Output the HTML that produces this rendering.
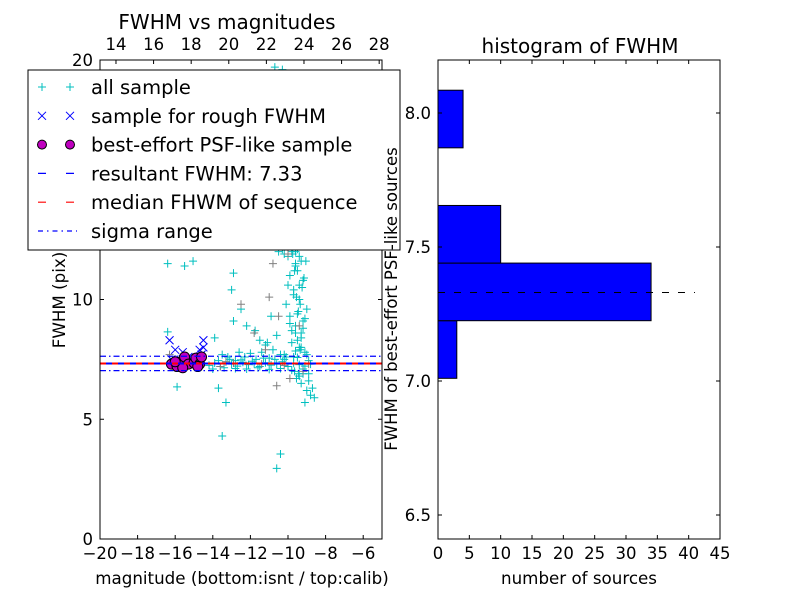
<!DOCTYPE html>
<html><head><meta charset="utf-8"><style>
body{margin:0;background:#fff}
svg{font-family:"DejaVu Sans","Liberation Sans",sans-serif}
</style></head><body>
<svg id="c" width="800" height="600" viewBox="0 0 800 600"></svg>
<script>
// ---- data ----
const allMag=[-14.2,-13.9,-13.6,-13.3,-13.0,-12.7,-12.4,-12.1,-11.8,-11.5,-11.2,-10.9,-10.6,-10.3,-10.0,-9.7,-9.4,-9.1,-8.8,
-14.0,-13.7,-13.4,-13.1,-12.8,-12.5,-12.2,-11.9,-11.6,-11.3,-11.0,-10.7,-10.4,-10.1,-9.8,-9.5,-9.2,-8.9,
-12.0,-11.4,-10.8,-10.2,-9.6,-9.3,-13.5,-12.6,-11.1,
-9.8,-9.6,-9.9,-9.5,-10.1,-9.7,-9.4,-9.9,-9.6,-10.0,-9.8,-9.5,-10.2,-9.7,-9.9,-10.0,-9.6,-10.3,-9.8,-10.1,-9.9,-10.4,-10.0,-10.2,-10.5,-10.3,
-9.3,-9.2,-9.1,-9.0,-9.4,-9.7,-9.2,-9.5,-9.3,-9.6,-9.1,-9.8,-10.6,-10.9,-11.2,-10.5,-10.7,
-16.4,-15.5,-15.05,-12.9,-13.0,-12.5,-12.9,-11.75,-15.9,-13.7,-13.3,-13.5,-10.4,-10.6,-16.4,-13.9,-12.2,-11.5,
-9.3,-9.0,-8.8,-8.6,-9.1,-9.4,-8.9,-9.2,-8.7,-10.7,
-9.4,-9.5,-9.3,-9.6,-9.2,-9.45,-9.35,-9.55,-9.25,-9.15,-9.65,-9.05,-9.5,-9.3,-9.4,-9.2,-9.6,-9.7,-9.1,-9.35,
-9.8,-9.9,-10.0,-9.75,-9.85,-10.1,-9.6,-9.45,-9.55,-9.65,-12.3,-11.7,-11.0,-10.4,-13.2,-12.8,-10.2,-9.0,-8.9,-9.95,
-10.0,-9.7,-9.4,-10.3,-9.9,-9.6,-10.2,-9.5,-9.8,-10.1];
const allFwhm=[7.25,7.35,7.2,7.4,7.3,7.22,7.38,7.28,7.32,7.2,7.36,7.26,7.3,7.4,7.2,7.34,7.28,7.22,7.3,
7.1,7.45,7.15,7.5,7.12,7.48,7.1,7.42,7.15,7.55,7.08,7.5,7.12,7.6,7.05,7.58,7.1,7.45,
7.75,7.8,7.9,7.7,7.85,8.0,7.7,7.8,8.2,
8.2,8.6,9.0,9.4,9.8,10.2,10.6,11.0,11.4,11.8,12.2,12.6,13.0,13.5,14.0,14.5,15.0,15.5,16.0,16.5,17.0,17.5,18.0,18.5,19.0,19.6,
8.4,8.8,9.2,9.6,10.0,10.4,10.8,11.2,11.6,12.0,12.4,12.8,8.5,9.3,8.1,12.0,13.2,
11.5,11.4,11.6,11.1,10.4,9.6,9.1,8.7,6.35,6.3,5.7,4.3,3.55,2.95,8.65,8.4,8.9,8.3,
6.5,6.2,6.0,5.9,5.7,6.8,6.6,6.9,6.3,19.7,
8.0,8.3,8.6,8.9,9.1,9.5,9.8,10.1,10.5,10.9,11.2,11.6,12.1,12.5,13.0,13.8,14.6,7.6,7.8,7.9,
8.7,9.3,10.6,11.9,13.4,14.9,15.8,6.9,6.7,7.0,7.6,7.5,7.55,7.7,7.6,7.45,7.5,7.7,6.9,16.8,
12.9,12.3,11.8,12.1,12.7,11.5,11.9,12.4,12.0,12.6];
const grayMag=[-16.3,-13.3,-12.5,-11.8,-11.0,-10.5,-10.0,-9.7,-9.4,-10.8,-11.4,-9.2,-10.2,-12.9,-13.6,-9.9,-10.6,-11.2,-8.9,-9.5];
const grayFwhm=[7.7,7.4,9.8,8.6,10.1,9.3,11.9,12.8,8.9,11.5,7.3,7.0,7.25,7.35,7.2,6.7,6.4,7.9,7.3,14.2];
const roughMag=[-16.3,-16.0,-15.6,-15.3,-14.5,-14.5,-14.6,-16.2,-15.0,-14.7];
const roughFwhm=[8.3,7.9,7.8,7.6,8.3,8.0,7.7,7.5,7.4,7.9];
const bestMag=[-16.2,-15.9,-15.7,-15.5,-15.3,-15.0,-14.9,-14.7,-14.6,-15.6,-16.0,-14.8];
const bestFwhm=[7.3,7.2,7.4,7.6,7.3,7.35,7.55,7.3,7.6,7.15,7.4,7.2];
const resultFwhm=7.33, medianFwhm=7.33, sigmaLo=7.03, sigmaHi=7.63;
const binEdges=[7.01,7.225,7.44,7.655,7.87,8.085];
const binCounts=[3,34,10,0,4];
const xTicksL=[-20,-18,-16,-14,-12,-10,-8,-6];
const xTicksTop=[14,16,18,20,22,24,26,28];
const yTicksL=[0,5,10,15,20];
const xTicksR=[0,5,10,15,20,25,30,35,40,45];
const yTicksR=[6.5,7.0,7.5,8.0];

const svg=document.getElementById('c');const NS='http://www.w3.org/2000/svg';
function mk(t,a,p){const e=document.createElementNS(NS,t);for(const k in a)e.setAttribute(k,a[k]);(p||svg).appendChild(e);return e;}
const L={x0:100,x1:382,y0:60,y1:539};
const xL=v=>L.x0+(v+20)*18.8, yL=v=>L.y1-v*23.95, xTop=v=>L.x0+(v-13.15)*18.8;
const R={x0:438,x1:720,y0:60,y1:539};
const xR=v=>R.x0+v*6.267, yR=v=>113+(8.0-v)*268;
function txt(x,y,s,sz,anchor,name,extra){const t=mk('text',Object.assign({x:x,y:y,'font-size':sz,'text-anchor':anchor||'middle',fill:'#000'},extra||{}));t.textContent=s;return t;}
function plus(g,x,y,c){mk('path',{d:`M${x-4} ${y}h8M${x} ${y-4}v8`,stroke:c,'stroke-width':1,fill:'none'},g);}
function cross(g,x,y,c){mk('path',{d:`M${x-4} ${y-4}l8 8M${x-4} ${y+4}l8 -8`,stroke:c,'stroke-width':1,fill:'none'},g);}

const clipL=mk('clipPath',{id:'cl'});mk('rect',{x:L.x0,y:L.y0,width:L.x1-L.x0,height:L.y1-L.y0},clipL);
const gL=mk('g',{'clip-path':'url(#cl)'});


const gAll=mk('g',{},gL);
allMag.forEach((m,i)=>plus(gAll,xL(m),yL(allFwhm[i]),'#00bfbf'));
const gGray=mk('g',{},gL);
grayMag.forEach((m,i)=>plus(gGray,xL(m),yL(grayFwhm[i]),'#808080'));
const gR=mk('g',{},gL);
roughMag.forEach((m,i)=>cross(gR,xL(m),yL(roughFwhm[i]),'#0000ff'));
const gB=mk('g',{},gL);
bestMag.forEach((m,i)=>mk('circle',{cx:xL(m),cy:yL(bestFwhm[i]),r:5,fill:'#bf00bf',stroke:'#000','stroke-width':1},gB));
let ln=mk('line',{x1:L.x0,x2:L.x1,y1:yL(medianFwhm),y2:yL(medianFwhm),stroke:'#ff0000','stroke-width':2,'stroke-dasharray':'6 6'},gL);
ln=mk('line',{x1:L.x0,x2:L.x1,y1:yL(resultFwhm),y2:yL(resultFwhm),stroke:'#0000ff','stroke-width':2,'stroke-dasharray':'6 6','stroke-dashoffset':6},gL);
[sigmaLo,sigmaHi].forEach(v=>{const l=mk('line',{x1:L.x0,x2:L.x1,y1:yL(v),y2:yL(v),stroke:'#0000ff','stroke-width':1.2,'stroke-dasharray':'6 3 1.5 3'},gL);});
let fr=mk('rect',{x:L.x0,y:L.y0,width:L.x1-L.x0,height:L.y1-L.y0,fill:'none',stroke:'#000'});
xTicksL.forEach(v=>{mk('line',{x1:xL(v),x2:xL(v),y1:L.y1,y2:L.y1-4,stroke:'#000'});txt(xL(v),559,(v<0?'\u2212':'')+Math.abs(v),16.5,'middle','x-tick-label');});
xTicksTop.forEach(v=>{mk('line',{x1:xTop(v),x2:xTop(v),y1:L.y0,y2:L.y0+4,stroke:'#000'});txt(xTop(v),50,String(v),16.5,'middle','top-x-tick-label');});
yTicksL.forEach(v=>{mk('line',{x1:L.x0,x2:L.x0+4,y1:yL(v),y2:yL(v),stroke:'#000'});mk('line',{x1:L.x1,x2:L.x1-4,y1:yL(v),y2:yL(v),stroke:'#000'});txt(93,yL(v)+6,String(v),16.5,'end','y-tick-label');});
txt(227,29,'FWHM vs magnitudes',20,'middle','left-title');
txt(242,584,'magnitude (bottom:isnt / top:calib)',16.7,'middle','x-axis-title');
txt(0,0,'FWHM (pix)',16.7,'middle','y-axis-title',{transform:'translate(65,300) rotate(-90)'});
const lg=mk('g',{});
mk('rect',{x:28,y:70,width:372,height:180,fill:'#fff',stroke:'#000'},lg);
const labels=['all sample','sample for rough FWHM','best-effort PSF-like sample','resultant FWHM: 7.33','median FHWM of sequence','sigma range'];
labels.forEach((s,i)=>{const y=87+i*28.8;
 if(i==0){plus(lg,42,y,'#00bfbf');plus(lg,70,y,'#00bfbf');}
 if(i==1){cross(lg,42,y,'#0000ff');cross(lg,70,y,'#0000ff');}
 if(i==2){mk('circle',{cx:42,cy:y,r:4.5,fill:'#bf00bf',stroke:'#000'},lg);mk('circle',{cx:70,cy:y,r:4.5,fill:'#bf00bf',stroke:'#000'},lg);}
 if(i==3)mk('line',{x1:38,x2:77,y1:y,y2:y,stroke:'#0000ff','stroke-width':1.2,'stroke-dasharray':'8 20'},lg);
 if(i==4)mk('line',{x1:38,x2:77,y1:y,y2:y,stroke:'#ff0000','stroke-width':1.2,'stroke-dasharray':'8 20'},lg);
 if(i==5)mk('line',{x1:38,x2:77,y1:y,y2:y,stroke:'#0000ff','stroke-width':1.2,'stroke-dasharray':'5 4 1.5 4'},lg);
 txt(91,y+7,s,19.5,'start','legend-entry');});
const gH=mk('g',{});
binCounts.forEach((c,i)=>{if(c<=0)return;const y0=yR(binEdges[i+1]),y1=yR(binEdges[i]);const b=mk('rect',{x:xR(0),y:y0,width:xR(c)-xR(0),height:y1-y0,fill:'#0000ff',stroke:'#000','stroke-width':1},gH);});
ln=mk('line',{x1:xR(0),x2:xR(41),y1:yR(resultFwhm),y2:yR(resultFwhm),stroke:'#000','stroke-width':1,'stroke-dasharray':'7 9'});
fr=mk('rect',{x:R.x0,y:R.y0,width:R.x1-R.x0,height:R.y1-R.y0,fill:'none',stroke:'#000'});
xTicksR.forEach(v=>{mk('line',{x1:xR(v),x2:xR(v),y1:R.y1,y2:R.y1-4,stroke:'#000'});mk('line',{x1:xR(v),x2:xR(v),y1:R.y0,y2:R.y0+4,stroke:'#000'});txt(xR(v),559,String(v),16.5,'middle','hist-x-tick-label');});
yTicksR.forEach(v=>{mk('line',{x1:R.x0,x2:R.x0+4,y1:yR(v),y2:yR(v),stroke:'#000'});mk('line',{x1:R.x1,x2:R.x1-4,y1:yR(v),y2:yR(v),stroke:'#000'});txt(431,yR(v)+6,v.toFixed(1),16.5,'end','hist-y-tick-label');});
txt(580,53,'histogram of FWHM',20,'middle','right-title');
txt(579,584,'number of sources',16.7,'middle','hist-x-axis-title');
txt(0,0,'FWHM of best-effort PSF-like sources',16.5,'middle','hist-y-axis-title',{transform:'translate(397,299) rotate(-90)'});
</script>
</body></html>
